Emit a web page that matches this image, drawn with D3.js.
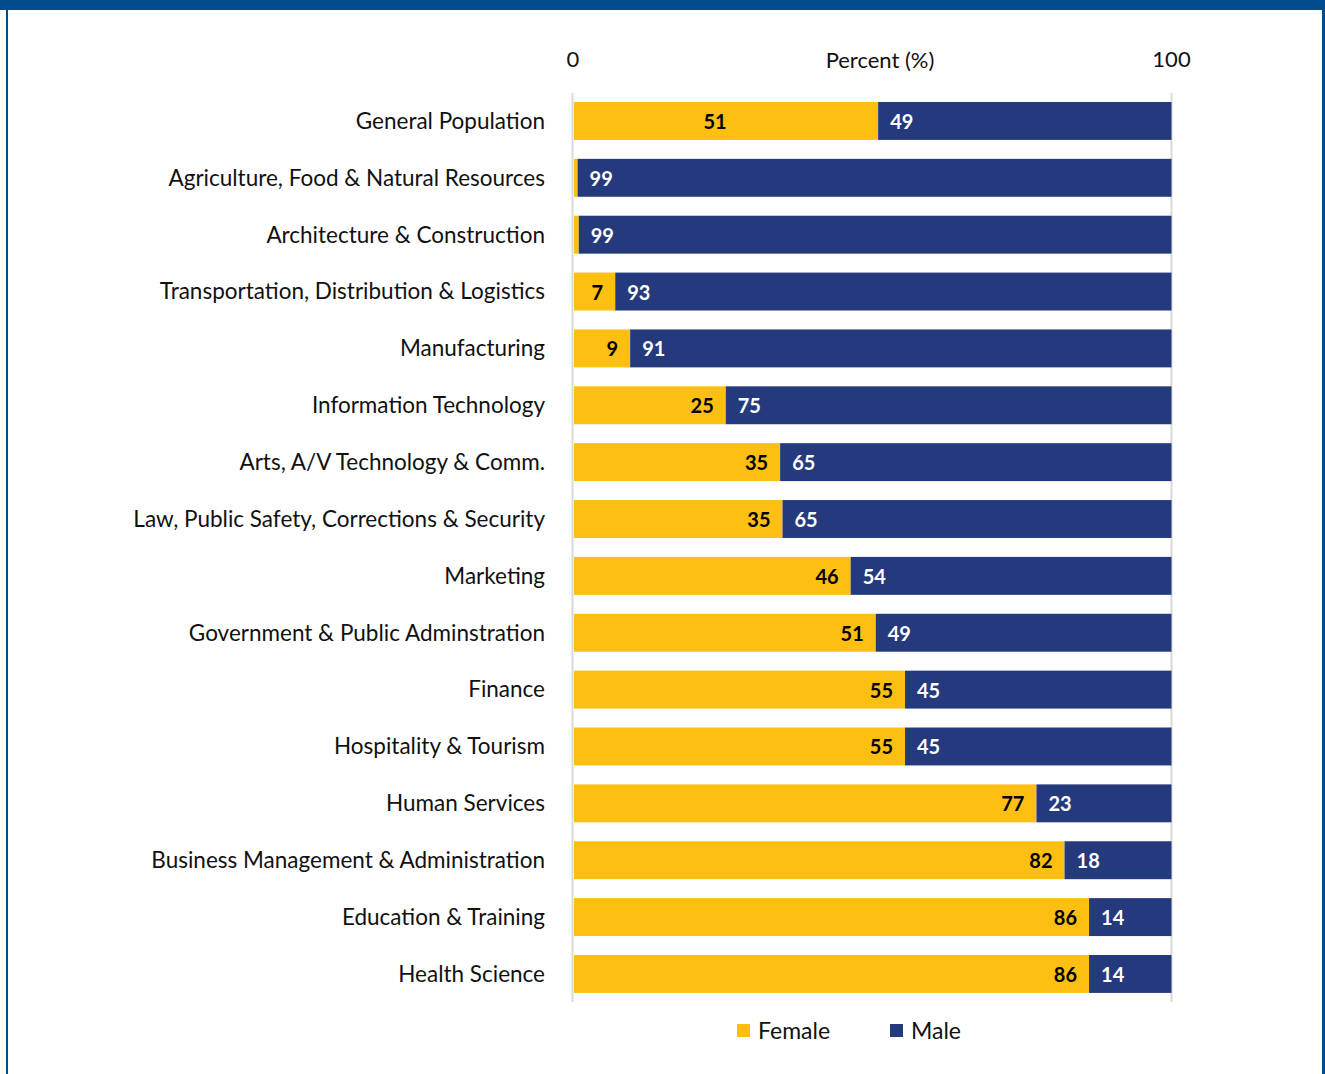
<!DOCTYPE html>
<meta charset="utf-8">
<head>
<script src="https://cdn.jsdelivr.net/npm/d3@7"></script>
<style>
  body { margin: 0; background: #fff; }
  svg { display: block; font-family: Lato, "Open Sans", sans-serif; }
  .cat { font-size: 22.5px; fill: #111; }
  .val { font-size: 20px; font-weight: bold; }
  .axis-label { font-size: 22px; fill: #111; }
  .legend text { font-size: 23px; fill: #111; }
</style>
</head>
<body>
<div id="chart"></div>
<script>
// categories top to bottom
var categories = [
  "General Population",
  "Agriculture, Food & Natural Resources",
  "Architecture & Construction",
  "Transportation, Distribution & Logistics",
  "Manufacturing",
  "Information Technology",
  "Arts, A/V Technology & Comm.",
  "Law, Public Safety, Corrections & Security",
  "Marketing",
  "Government & Public Adminstration",
  "Finance",
  "Hospitality & Tourism",
  "Human Services",
  "Business Management & Administration",
  "Education & Training",
  "Health Science"
];
// female share (%), male is the remainder
var femaleValues = [50.9, 0.6, 0.8, 6.9, 9.4, 25.4, 34.5, 34.9, 46.3, 50.5, 55.4, 55.4, 77.4, 82.1, 86.2, 86.2];
// printed labels
var femaleLabels = ["51", "", "", "7", "9", "25", "35", "35", "46", "51", "55", "55", "77", "82", "86", "86"];
var maleLabels = ["49", "99", "99", "93", "91", "75", "65", "65", "54", "49", "45", "45", "23", "18", "14", "14"];
var seriesNames = ["Female", "Male"];
var seriesColors = ["#FCBF12", "#253A7C"];
var xTicks = [0, 100];

var W = 1325, H = 1074;

var rows = categories.map(function(c, i) {
  return { cat: c, Female: femaleValues[i], Male: 100 - femaleValues[i], i: i };
});

var svg = d3.select("#chart").append("svg")
  .attr("width", W)
  .attr("height", H);

// frame
svg.append("rect").attr("x", 0).attr("y", 0).attr("width", W).attr("height", 10).attr("fill", "#004C8F");
svg.append("rect").attr("x", 6).attr("y", 0).attr("width", 2).attr("height", H).attr("fill", "#004C8F");
svg.append("rect").attr("x", 1322).attr("y", 0).attr("width", 3).attr("height", H).attr("fill", "#004C8F");

var x = d3.scaleLinear().domain([0, 100]).range([574, 1171.5]);
var y = d3.scaleBand().domain(categories).range([92.5, 1002.4]).paddingInner(0.333).paddingOuter(0.1667);

// gridlines at 0 and 100
svg.append("g").selectAll("line")
  .data(xTicks)
  .enter().append("line")
  .attr("x1", function(d) { return x(d) - (d === 0 ? 1.5 : 0); })
  .attr("x2", function(d) { return x(d) - (d === 0 ? 1.5 : 0); })
  .attr("y1", 93)
  .attr("y2", 1002)
  .attr("stroke", "#d9d9d9")
  .attr("stroke-width", 2);

// top tick labels
svg.append("g").selectAll("text")
  .data(xTicks)
  .enter().append("text")
  .attr("class", "axis-label")
  .attr("x", function(d) { return x(d) - (d === 0 ? 1 : 0); })
  .attr("y", 67)
  .attr("text-anchor", "middle")
  .text(function(d) { return d; });

svg.append("text")
  .attr("class", "axis-label")
  .attr("x", 880)
  .attr("y", 68)
  .attr("text-anchor", "middle")
  .text("Percent (%)");

var stack = d3.stack().keys(seriesNames)(rows);

var layer = svg.append("g").selectAll("g")
  .data(stack)
  .enter().append("g")
  .attr("fill", function(d, i) { return seriesColors[i]; });

layer.selectAll("rect")
  .data(function(d) { return d; })
  .enter().append("rect")
  .attr("x", function(d) { return x(d[0]); })
  .attr("width", function(d) { return x(d[1]) - x(d[0]); })
  .attr("y", function(d) { return y(d.data.cat); })
  .attr("height", y.bandwidth());

// category labels
svg.append("g").selectAll("text")
  .data(rows)
  .enter().append("text")
  .attr("class", "cat")
  .attr("x", 545)
  .attr("y", function(d) { return y(d.cat) + y.bandwidth() / 2; })
  .attr("dy", "0.35em")
  .attr("text-anchor", "end")
  .text(function(d) { return d.cat; });

// female value labels (inside end; first row sits mid-bar)
svg.append("g").selectAll("text")
  .data(rows)
  .enter().append("text")
  .attr("class", "val")
  .attr("fill", "#000")
  .attr("x", function(d) {
    if (d.i === 0) return (x(0) + x(d.Female)) / 2 - 11;
    return x(d.Female) - 12;
  })
  .attr("y", function(d) { return y(d.cat) + y.bandwidth() / 2 + 1; })
  .attr("dy", "0.35em")
  .attr("text-anchor", function(d) { return d.i === 0 ? "middle" : "end"; })
  .text(function(d) { return femaleLabels[d.i]; });

// male value labels (inside base)
svg.append("g").selectAll("text")
  .data(rows)
  .enter().append("text")
  .attr("class", "val")
  .attr("fill", "#fff")
  .attr("x", function(d) { return x(d.Female) + 12; })
  .attr("y", function(d) { return y(d.cat) + y.bandwidth() / 2 + 1; })
  .attr("dy", "0.35em")
  .attr("text-anchor", "start")
  .text(function(d) { return maleLabels[d.i]; });

// legend
var legend = svg.append("g").attr("class", "legend")
  .selectAll("g")
  .data(seriesNames)
  .enter().append("g")
  .attr("transform", function(d, i) { return "translate(" + (737 + i * 153) + ",1024)"; });

legend.append("rect")
  .attr("width", 13)
  .attr("height", 13)
  .attr("fill", function(d, i) { return seriesColors[i]; });

legend.append("text")
  .attr("x", 21)
  .attr("y", 7)
  .attr("dy", "0.35em")
  .text(function(d) { return d; });
</script>
</body>
